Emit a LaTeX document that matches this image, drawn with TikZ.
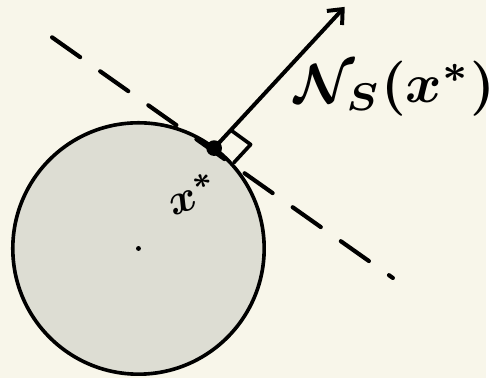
\documentclass[tikz,border=0pt]{standalone}
\usepackage{amsmath,amssymb,bm}
\usepackage{xcolor}
\usepackage{tikz}
\usetikzlibrary{arrows.meta,calc}
\definecolor{paper}{HTML}{F8F6EA}
\definecolor{setgray}{HTML}{DDDDD3}

\begin{document}
\begin{tikzpicture}[x=0.02cm, y=-0.02cm, line width=2.1pt, line cap=round, line join=round]
  \fill[paper] (0,0) rectangle (495,385);
  \node[circle, draw, fill=setgray, minimum size=5.12cm, inner sep=0pt, outer sep=0pt] (S) at (141,253) {};
  \node[circle, fill, inner sep=0pt, minimum size=0.1cm] (c) at (S.center) {};
  \coordinate (ta) at (53,38);
  \coordinate (tb) at (400,283);
  \coordinate (tip) at (351,7);
  \draw[line width=2.4pt, dash pattern=on 0.7cm off 0.5cm] (ta) -- (tb);
  \node[circle, fill, inner sep=0pt, minimum size=0.32cm] (xs) at (S.53) {};
  \draw[line width=2.3pt, -{Straight Barb[length=7pt,width=12pt]}] (xs.center) -- (tip);
  \coordinate (ma) at ($(xs.center)!0.5cm!(tip)$);
  \coordinate (mb) at ($(xs.center)!0.5cm!(tb)$);
  \draw (ma) -- ($(ma)+(mb)-(xs.center)$) -- (mb);
  \node[rotate=20, inner sep=0pt] (xl) at (196,197) {\scalebox{2.5}{\boldmath$x^{*}$}};
  \node[inner sep=0pt] (nl) at (402,90) {\scalebox{3.2}{\boldmath$\mathcal{N}_S(x^*)$}};
\end{tikzpicture}
\end{document}
